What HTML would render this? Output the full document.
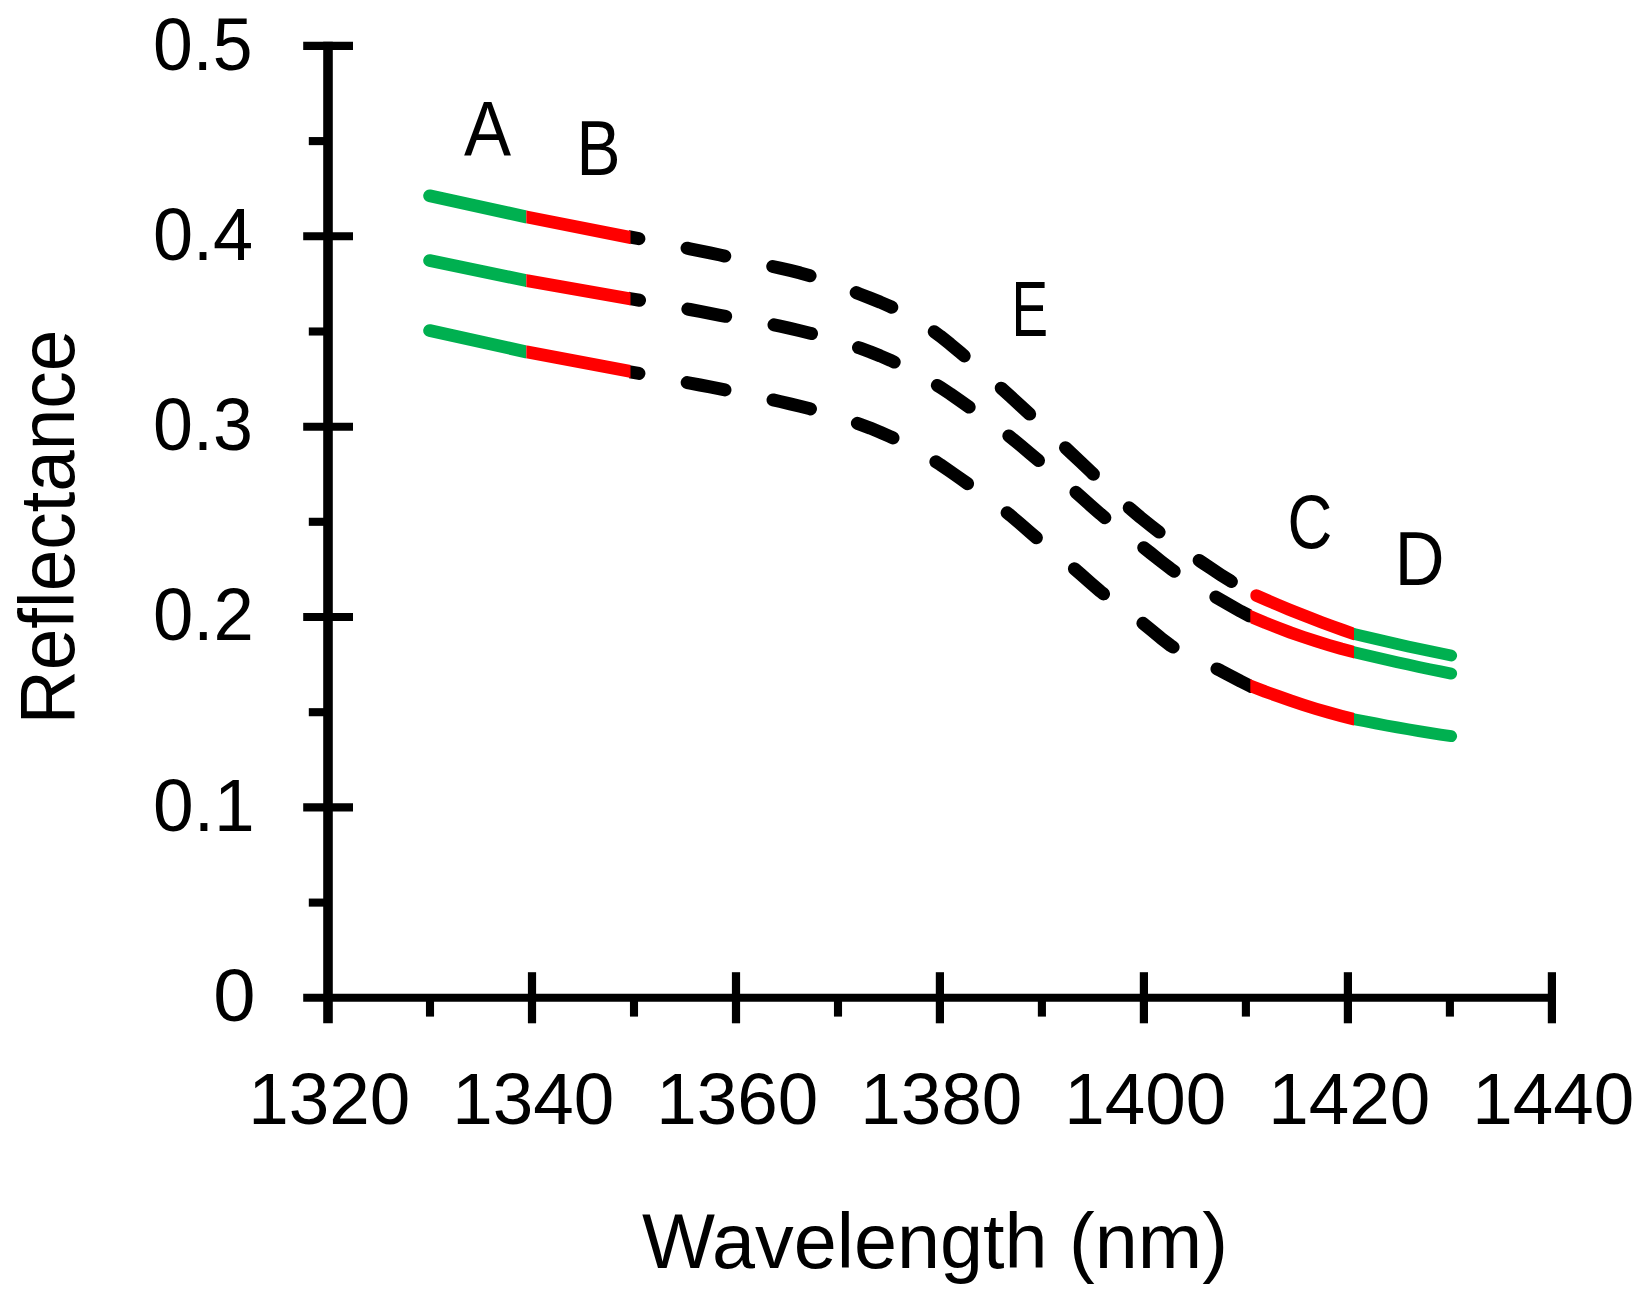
<!DOCTYPE html>
<html lang="en"><head><meta charset="utf-8"><title>Reflectance vs Wavelength</title>
<style>
html,body{margin:0;padding:0;background:#fff;}
body{width:1651px;height:1297px;overflow:hidden;}
svg{display:block;}
text{font-family:"Liberation Sans",sans-serif;fill:#000;}
</style></head><body>
<svg width="1651" height="1297" viewBox="0 0 1651 1297">
<rect width="1651" height="1297" fill="#fff"/>
<defs>
<clipPath id="cg"><rect x="0" y="0" width="526.3" height="1297"/><rect x="1354.0" y="0" width="297.0" height="1297"/></clipPath>
<clipPath id="cr"><rect x="526.3" y="0" width="104.20000000000005" height="1297"/><rect x="1250.3" y="0" width="103.70000000000005" height="1297"/></clipPath>
<clipPath id="ck"><rect x="629.0" y="0" width="622.8" height="1297"/></clipPath>
</defs>

<g stroke="#000" fill="none" stroke-linecap="butt">
<line x1="328.0" y1="41.85" x2="328.0" y2="1023.3" stroke-width="9.6"/>
<line x1="303.2" y1="997.8" x2="1555.9" y2="997.8" stroke-width="8.1"/>
<line x1="303.2" y1="45.9" x2="353" y2="45.9" stroke-width="8.1"/>
<line x1="308.8" y1="141.1" x2="328.0" y2="141.1" stroke-width="8.1"/>
<line x1="303.2" y1="236.3" x2="353" y2="236.3" stroke-width="8.1"/>
<line x1="308.8" y1="331.5" x2="328.0" y2="331.5" stroke-width="8.1"/>
<line x1="303.2" y1="426.7" x2="353" y2="426.7" stroke-width="8.1"/>
<line x1="308.8" y1="521.8" x2="328.0" y2="521.8" stroke-width="8.1"/>
<line x1="303.2" y1="617.0" x2="353" y2="617.0" stroke-width="8.1"/>
<line x1="308.8" y1="712.2" x2="328.0" y2="712.2" stroke-width="8.1"/>
<line x1="303.2" y1="807.4" x2="353" y2="807.4" stroke-width="8.1"/>
<line x1="308.8" y1="902.6" x2="328.0" y2="902.6" stroke-width="8.1"/>
<line x1="532.0" y1="972.2" x2="532.0" y2="1023.3" stroke-width="8.2"/>
<line x1="736.0" y1="972.2" x2="736.0" y2="1023.3" stroke-width="8.2"/>
<line x1="939.9" y1="972.2" x2="939.9" y2="1023.3" stroke-width="8.2"/>
<line x1="1143.9" y1="972.2" x2="1143.9" y2="1023.3" stroke-width="8.2"/>
<line x1="1347.9" y1="972.2" x2="1347.9" y2="1023.3" stroke-width="8.2"/>
<line x1="1551.9" y1="972.2" x2="1551.9" y2="1023.3" stroke-width="8.2"/>
<line x1="430.0" y1="997.8" x2="430.0" y2="1016.6" stroke-width="8.1"/>
<line x1="634.0" y1="997.8" x2="634.0" y2="1016.6" stroke-width="8.1"/>
<line x1="838.0" y1="997.8" x2="838.0" y2="1016.6" stroke-width="8.1"/>
<line x1="1041.9" y1="997.8" x2="1041.9" y2="1016.6" stroke-width="8.1"/>
<line x1="1245.9" y1="997.8" x2="1245.9" y2="1016.6" stroke-width="8.1"/>
<line x1="1449.9" y1="997.8" x2="1449.9" y2="1016.6" stroke-width="8.1"/>
</g>
<g fill="none" stroke-linejoin="round" stroke-linecap="round" stroke-width="13">
<g clip-path="url(#ck)">
<path d="M429.6,195.7 L439.6,198.2 L449.6,200.5 L459.6,202.9 L469.7,205.1 L479.7,207.3 L489.7,209.5 L499.7,211.6 L509.7,213.7 L519.7,215.7 L529.7,217.8 L539.8,219.7 L549.8,221.7 L559.8,223.6 L569.8,225.6 L579.8,227.5 L589.8,229.4 L599.8,231.3 L609.8,233.2 L619.9,235.1 L629.9,237.0 L639.9,238.9 L649.9,240.8 L659.9,242.8 L669.9,244.7 L679.9,246.7 L690.0,248.8 L700.0,250.8 L710.0,252.9 L720.0,255.0 L730.0,257.2 L740.0,259.3 L750.0,261.5 L760.1,263.7 L770.1,265.9 L780.1,268.1 L790.1,270.4 L800.1,272.9 L810.1,275.8 L820.1,279.0 L830.1,282.6 L840.2,286.4 L850.2,290.3 L860.2,294.2 L870.2,298.1 L880.2,302.1 L890.2,306.5 L900.2,311.2 L910.3,316.5 L920.3,322.4 L930.3,328.9 L940.3,336.2 L950.3,344.2 L960.3,352.6 L970.3,361.1 L980.4,369.7 L990.4,378.5 L1000.4,387.4 L1010.4,396.4 L1020.4,405.6 L1030.4,414.8 L1040.4,424.1 L1050.5,433.5 L1060.5,443.0 L1070.5,452.4 L1080.5,461.9 L1090.5,471.4 L1100.5,481.0 L1110.5,490.6 L1120.5,500.0 L1130.6,509.0 L1140.6,517.5 L1150.6,525.5 L1160.6,533.2 L1170.6,540.6 L1180.6,547.7 L1190.6,554.7 L1200.7,561.5 L1210.7,568.2 L1220.7,574.8 L1230.7,581.1 L1240.7,587.0 L1250.7,592.6 L1260.7,597.6 L1270.8,602.2 L1280.8,606.4 L1290.8,610.4 L1300.8,614.3 L1310.8,618.1 L1320.8,621.9 L1330.8,625.6 L1340.8,629.3 L1350.9,632.8 L1360.9,636.2 L1370.9,639.4 L1380.9,642.4 L1390.9,645.2 L1400.9,647.7 L1410.9,650.0 L1421.0,651.9 L1431.0,653.5 L1441.0,654.8 L1451.0,655.6" stroke="#000" stroke-dasharray="38.5 49.1"/>
<path d="M429.6,260.6 L439.6,263.0 L449.6,265.3 L459.6,267.5 L469.7,269.6 L479.7,271.7 L489.7,273.7 L499.7,275.7 L509.7,277.6 L519.7,279.5 L529.7,281.3 L539.8,283.1 L549.8,284.8 L559.8,286.6 L569.8,288.3 L579.8,290.0 L589.8,291.7 L599.8,293.4 L609.8,295.1 L619.9,296.8 L629.9,298.6 L639.9,300.3 L649.9,302.1 L659.9,303.9 L669.9,305.7 L679.9,307.6 L690.0,309.5 L700.0,311.4 L710.0,313.4 L720.0,315.3 L730.0,317.1 L740.0,318.8 L750.0,320.5 L760.1,322.3 L770.1,324.1 L780.1,326.1 L790.1,328.3 L800.1,330.7 L810.1,333.2 L820.1,335.8 L830.1,338.6 L840.2,341.6 L850.2,344.8 L860.2,348.2 L870.2,351.9 L880.2,355.9 L890.2,360.2 L900.2,364.8 L910.3,369.8 L920.3,375.2 L930.3,381.0 L940.3,387.3 L950.3,393.9 L960.3,400.9 L970.3,407.9 L980.4,414.9 L990.4,422.0 L1000.4,429.4 L1010.4,437.2 L1020.4,445.3 L1030.4,453.7 L1040.4,462.1 L1050.5,470.5 L1060.5,478.9 L1070.5,487.5 L1080.5,496.3 L1090.5,505.3 L1100.5,514.1 L1110.5,522.4 L1120.5,530.1 L1130.6,537.6 L1140.6,545.2 L1150.6,553.0 L1160.6,561.0 L1170.6,568.7 L1180.6,575.8 L1190.6,582.3 L1200.7,588.3 L1210.7,594.1 L1220.7,599.9 L1230.7,605.7 L1240.7,611.3 L1250.7,616.5 L1260.7,621.2 L1270.8,625.4 L1280.8,629.3 L1290.8,632.9 L1300.8,636.2 L1310.8,639.5 L1320.8,642.6 L1330.8,645.5 L1340.8,648.4 L1350.9,651.2 L1360.9,653.8 L1370.9,656.4 L1380.9,658.8 L1390.9,661.2 L1400.9,663.4 L1410.9,665.6 L1421.0,667.7 L1431.0,669.7 L1441.0,671.6 L1451.0,673.5" stroke="#000" stroke-dasharray="38.5 49.1"/>
<path d="M429.6,330.6 L439.6,333.0 L449.6,335.3 L459.6,337.6 L469.7,339.8 L479.7,342.0 L489.7,344.2 L499.7,346.3 L509.7,348.4 L519.7,350.5 L529.7,352.5 L539.8,354.5 L549.8,356.5 L559.8,358.4 L569.8,360.4 L579.8,362.3 L589.8,364.2 L599.8,366.1 L609.8,368.0 L619.9,369.9 L629.9,371.8 L639.9,373.6 L649.9,375.5 L659.9,377.4 L669.9,379.3 L679.9,381.2 L690.0,383.1 L700.0,385.0 L710.0,386.9 L720.0,388.9 L730.0,390.9 L740.0,392.9 L750.0,395.0 L760.1,397.1 L770.1,399.3 L780.1,401.5 L790.1,403.8 L800.1,406.3 L810.1,408.8 L820.1,411.5 L830.1,414.4 L840.2,417.5 L850.2,420.7 L860.2,424.3 L870.2,428.1 L880.2,432.2 L890.2,436.6 L900.2,441.4 L910.3,446.6 L920.3,452.2 L930.3,458.2 L940.3,464.6 L950.3,471.5 L960.3,478.5 L970.3,485.6 L980.4,492.6 L990.4,499.8 L1000.4,507.3 L1010.4,515.4 L1020.4,523.9 L1030.4,532.6 L1040.4,541.1 L1050.5,549.2 L1060.5,557.2 L1070.5,565.4 L1080.5,574.0 L1090.5,582.9 L1100.5,591.5 L1110.5,599.4 L1120.5,606.8 L1130.6,614.0 L1140.6,621.4 L1150.6,629.5 L1160.6,637.8 L1170.6,645.5 L1180.6,651.9 L1190.6,657.1 L1200.7,661.6 L1210.7,666.0 L1220.7,670.7 L1230.7,675.9 L1240.7,681.3 L1250.7,686.3 L1260.7,690.6 L1270.8,694.4 L1280.8,697.8 L1290.8,700.9 L1300.8,703.9 L1310.8,706.8 L1320.8,709.8 L1330.8,712.7 L1340.8,715.5 L1350.9,718.3 L1360.9,720.9 L1370.9,723.4 L1380.9,725.8 L1390.9,728.0 L1400.9,730.0 L1410.9,731.8 L1421.0,733.3 L1431.0,734.6 L1441.0,735.6 L1451.0,736.2" stroke="#000" stroke-dasharray="38.5 49.1"/>
</g><g clip-path="url(#cg)">
<path d="M429.6,195.8 L526.3,216.9 L640.0,239.4" stroke="#00b050" stroke-width="12.8"/>
<path d="M429.6,260.6 L526.3,280.6 L640.0,300.5" stroke="#00b050" stroke-width="12.8"/>
<path d="M429.6,330.6 L526.3,351.9 L640.0,373.3" stroke="#00b050" stroke-width="12.8"/>
<path d="M1256.3,595.5 L1267.2,600.2 L1278.0,604.9 L1288.9,609.4 L1299.7,613.8 L1310.6,618.1 L1321.4,622.2 L1332.3,626.3 L1343.1,630.2 L1354.0,634.0 L1354.0,634.0 L1364.8,636.5 L1375.6,639.1 L1386.4,641.5 L1397.2,644.0 L1408.0,646.4 L1418.8,648.7 L1429.6,651.1 L1440.4,653.3 L1451.2,655.6" stroke="#00b050" stroke-width="11.8"/>
<path d="M1240.0,612.0 L1252.7,617.5 L1265.3,622.8 L1278.0,627.8 L1290.7,632.6 L1303.3,637.0 L1316.0,641.2 L1328.7,645.1 L1341.3,648.8 L1354.0,652.1 L1354.0,652.1 L1364.8,654.7 L1375.6,657.2 L1386.4,659.7 L1397.2,662.2 L1408.0,664.6 L1418.8,666.9 L1429.6,669.2 L1440.4,671.4 L1451.2,673.6" stroke="#00b050" stroke-width="11.8"/>
<path d="M1240.0,681.5 L1252.7,686.7 L1265.3,691.6 L1278.0,696.2 L1290.7,700.6 L1303.3,704.8 L1316.0,708.8 L1328.7,712.5 L1341.3,715.9 L1354.0,719.2 L1354.0,719.2 L1364.8,721.3 L1375.6,723.4 L1386.4,725.5 L1397.2,727.4 L1408.0,729.3 L1418.8,731.1 L1429.6,732.9 L1440.4,734.6 L1451.2,736.2" stroke="#00b050" stroke-width="11.8"/>
</g><g clip-path="url(#cr)">
<path d="M429.6,195.8 L526.3,216.9 L640.0,239.4" stroke="#ff0000" stroke-width="12.8"/>
<path d="M429.6,260.6 L526.3,280.6 L640.0,300.5" stroke="#ff0000" stroke-width="12.8"/>
<path d="M429.6,330.6 L526.3,351.9 L640.0,373.3" stroke="#ff0000" stroke-width="12.8"/>
<path d="M1256.3,595.5 L1267.2,600.2 L1278.0,604.9 L1288.9,609.4 L1299.7,613.8 L1310.6,618.1 L1321.4,622.2 L1332.3,626.3 L1343.1,630.2 L1354.0,634.0 L1354.0,634.0 L1364.8,636.5 L1375.6,639.1 L1386.4,641.5 L1397.2,644.0 L1408.0,646.4 L1418.8,648.7 L1429.6,651.1 L1440.4,653.3 L1451.2,655.6" stroke="#ff0000" stroke-width="12.4"/>
<path d="M1240.0,612.0 L1252.7,617.5 L1265.3,622.8 L1278.0,627.8 L1290.7,632.6 L1303.3,637.0 L1316.0,641.2 L1328.7,645.1 L1341.3,648.8 L1354.0,652.1 L1354.0,652.1 L1364.8,654.7 L1375.6,657.2 L1386.4,659.7 L1397.2,662.2 L1408.0,664.6 L1418.8,666.9 L1429.6,669.2 L1440.4,671.4 L1451.2,673.6" stroke="#ff0000" stroke-width="12.4"/>
<path d="M1240.0,681.5 L1252.7,686.7 L1265.3,691.6 L1278.0,696.2 L1290.7,700.6 L1303.3,704.8 L1316.0,708.8 L1328.7,712.5 L1341.3,715.9 L1354.0,719.2 L1354.0,719.2 L1364.8,721.3 L1375.6,723.4 L1386.4,725.5 L1397.2,727.4 L1408.0,729.3 L1418.8,731.1 L1429.6,732.9 L1440.4,734.6 L1451.2,736.2" stroke="#ff0000" stroke-width="12.4"/>
</g></g>
<text transform="matrix(0.7153 0 0 0.7352 153.04 69.86)" font-size="100">0.5</text>
<text transform="matrix(0.7205 0 0 0.7352 153.02 260.06)" font-size="100">0.4</text>
<text transform="matrix(0.7180 0 0 0.7352 153.03 450.26)" font-size="100">0.3</text>
<text transform="matrix(0.7246 0 0 0.7352 153.00 640.46)" font-size="100">0.2</text>
<text transform="matrix(0.7315 0 0 0.7352 152.97 830.66)" font-size="100">0.1</text>
<text transform="matrix(0.7600 0 0 0.7352 213.26 1020.86)" font-size="100">0</text>
<text transform="matrix(0.7280 0 0 0.7310 248.34 1123.57)" font-size="100">1320</text>
<text transform="matrix(0.7280 0 0 0.7310 452.32 1123.57)" font-size="100">1340</text>
<text transform="matrix(0.7280 0 0 0.7310 656.30 1123.57)" font-size="100">1360</text>
<text transform="matrix(0.7280 0 0 0.7310 860.28 1123.57)" font-size="100">1380</text>
<text transform="matrix(0.7280 0 0 0.7310 1064.26 1123.57)" font-size="100">1400</text>
<text transform="matrix(0.7280 0 0 0.7310 1268.24 1123.57)" font-size="100">1420</text>
<text transform="matrix(0.7280 0 0 0.7310 1472.22 1123.57)" font-size="100">1440</text>
<text transform="matrix(0.7735 0 0 0.7766 641.91 1268.40)" font-size="100">Wavelength (nm)</text>
<text transform="translate(74.2,718.2) rotate(-90) matrix(0.7470 0 0 0.7741 -5.98 0)" font-size="100">Reflectance</text>
<text transform="matrix(0.7061 0 0 0.7752 464.05 156.20)" font-size="100">A</text>
<text transform="matrix(0.6598 0 0 0.7754 576.52 175.00)" font-size="100">B</text>
<text transform="matrix(0.5486 0 0 0.7754 1011.61 335.90)" font-size="100">E</text>
<text transform="matrix(0.6206 0 0 0.7676 1287.50 548.13)" font-size="100">C</text>
<text transform="matrix(0.6891 0 0 0.7580 1394.79 584.70)" font-size="100">D</text>
</svg></body></html>
